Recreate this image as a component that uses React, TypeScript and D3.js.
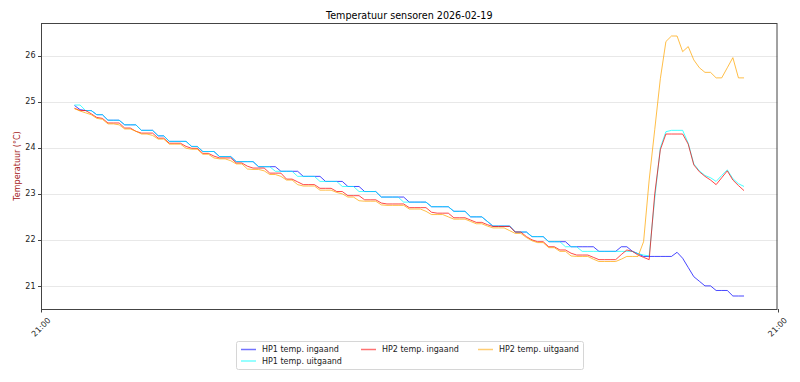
import React from "react";
import * as d3 from "d3";

// ---- data (one sample every 12 minutes, 121 samples) ----
const seriesNames = ["HP1 temp. ingaand", "HP1 temp. uitgaand", "HP2 temp. ingaand", "HP2 temp. uitgaand"];
const seriesColors = ["blue", "cyan", "red", "orange"];

const hp1In = [
  24.92, 24.83, 24.81, 24.81, 24.72, 24.72, 24.6, 24.6, 24.6, 24.5,
  24.5, 24.5, 24.38, 24.38, 24.38, 24.26, 24.26, 24.14, 24.14, 24.14,
  24.14, 24.03, 24.03, 23.92, 23.92, 23.92, 23.81, 23.81, 23.81, 23.7,
  23.7, 23.7, 23.7, 23.59, 23.59, 23.59, 23.59, 23.49, 23.49, 23.49,
  23.49, 23.38, 23.38, 23.38, 23.38, 23.27, 23.27, 23.27, 23.27, 23.16,
  23.16, 23.16, 23.05, 23.05, 23.05, 22.93, 22.93, 22.93, 22.93, 22.93,
  22.82, 22.82, 22.82, 22.82, 22.72, 22.72, 22.72, 22.72, 22.62, 22.62,
  22.62, 22.5, 22.5, 22.5, 22.4, 22.3, 22.3, 22.3, 22.3, 22.17,
  22.17, 22.17, 22.07, 22.07, 22.07, 21.96, 21.96, 21.96, 21.96, 21.85,
  21.85, 21.85, 21.85, 21.85, 21.75, 21.75, 21.75, 21.75, 21.85, 21.85,
  21.75, 21.7, 21.64, 21.64, 21.64, 21.64, 21.64, 21.64, 21.73, 21.6,
  21.4, 21.2, 21.1, 21.0, 21.0, 20.9, 20.9, 20.9, 20.78, 20.78,
  20.78,
];

const hp1Out = [
  24.93, 24.93, 24.81, 24.81, 24.72, 24.72, 24.6, 24.6, 24.6, 24.5,
  24.5, 24.5, 24.38, 24.38, 24.38, 24.26, 24.26, 24.14, 24.14, 24.14,
  24.14, 24.03, 24.03, 23.92, 23.92, 23.92, 23.81, 23.81, 23.81, 23.7,
  23.7, 23.7, 23.7, 23.59, 23.59, 23.59, 23.49, 23.49, 23.49, 23.49,
  23.38, 23.38, 23.38, 23.38, 23.27, 23.27, 23.27, 23.27, 23.16, 23.16,
  23.16, 23.05, 23.05, 23.05, 23.05, 22.93, 22.93, 22.93, 22.93, 22.82,
  22.82, 22.82, 22.82, 22.82, 22.72, 22.72, 22.72, 22.72, 22.62, 22.62,
  22.62, 22.5, 22.5, 22.5, 22.4, 22.3, 22.3, 22.3, 22.3, 22.17,
  22.17, 22.17, 22.07, 22.07, 22.07, 21.96, 21.96, 21.96, 21.85, 21.85,
  21.85, 21.75, 21.75, 21.75, 21.75, 21.75, 21.75, 21.75, 21.75, 21.75,
  21.75, 21.7, 21.67, 21.65, 22.9, 24.0, 24.35, 24.38, 24.38, 24.38,
  24.1, 23.65, 23.5, 23.4, 23.35, 23.27, 23.4, 23.52, 23.33, 23.22,
  23.16,
];

const hp2In = [
  24.86, 24.81, 24.81, 24.74, 24.66, 24.64, 24.54, 24.54, 24.54, 24.43,
  24.43, 24.36, 24.32, 24.32, 24.32, 24.21, 24.21, 24.1, 24.1, 24.1,
  24.03, 23.99, 23.99, 23.88, 23.88, 23.82, 23.78, 23.78, 23.78, 23.67,
  23.67, 23.6, 23.56, 23.56, 23.56, 23.45, 23.45, 23.45, 23.32, 23.32,
  23.26, 23.2, 23.2, 23.2, 23.12, 23.12, 23.12, 23.05, 23.05, 22.96,
  22.96, 22.96, 22.87, 22.87, 22.87, 22.8, 22.78, 22.78, 22.78, 22.78,
  22.7, 22.7, 22.7, 22.7, 22.6, 22.58, 22.58, 22.58, 22.48, 22.48,
  22.48, 22.43, 22.38, 22.38, 22.33, 22.29, 22.29, 22.29, 22.29, 22.17,
  22.17, 22.07, 22.0, 21.96, 21.96, 21.85, 21.85, 21.78, 21.78, 21.71,
  21.67, 21.67, 21.67, 21.62, 21.57, 21.57, 21.57, 21.57, 21.68, 21.78,
  21.75, 21.67, 21.62, 21.57, 23.0, 23.96, 24.3, 24.3, 24.3, 24.3,
  24.08, 23.63, 23.48, 23.38, 23.3, 23.2, 23.35, 23.5, 23.3, 23.18,
  23.07,
];

const hp2Out = [
  24.85, 24.8, 24.76, 24.72, 24.64, 24.62, 24.52, 24.52, 24.5, 24.41,
  24.41, 24.36, 24.3, 24.3, 24.27, 24.19, 24.19, 24.08, 24.08, 24.08,
  23.99, 23.97, 23.97, 23.86, 23.86, 23.78, 23.76, 23.76, 23.72, 23.65,
  23.65, 23.54, 23.53, 23.53, 23.5, 23.42, 23.42, 23.38, 23.3, 23.3,
  23.2, 23.17, 23.17, 23.17, 23.08, 23.08, 23.08, 23.03, 23.0, 22.93,
  22.93, 22.85, 22.84, 22.84, 22.84, 22.76, 22.75, 22.75, 22.75, 22.75,
  22.67, 22.67, 22.67, 22.62, 22.55, 22.55, 22.55, 22.5, 22.45, 22.45,
  22.45, 22.4, 22.35, 22.35, 22.3, 22.26, 22.26, 22.26, 22.2, 22.14,
  22.14, 22.05, 21.98, 21.94, 21.94, 21.83, 21.83, 21.75, 21.75, 21.65,
  21.64, 21.64, 21.64, 21.58, 21.53, 21.53, 21.53, 21.53, 21.58, 21.64,
  21.64, 21.64, 21.96, 23.3, 24.4, 25.5, 26.31, 26.43, 26.43, 26.09,
  26.2, 25.91, 25.74, 25.64, 25.64, 25.52, 25.52, 25.74, 25.96, 25.52,
  25.52,
];

const yTicks = [21, 22, 23, 24, 25, 26];
const xTickLabels = ["21:00", "21:00"];
const titleText = "Temperatuur sensoren 2026-02-19";
const yLabelText = "Temperatuur (°C)";

const allSeries = [hp1In, hp1Out, hp2In, hp2Out];

export default function App() {
  const W = 800;
  const H = 382;
  const left = 41;
  const right = 777.5;
  const top = 23;
  const bottom = 309;

  const n = hp1In.length;
  const xPad = (n - 1) * 0.05;
  const x = d3.scaleLinear().domain([-xPad, n - 1 + xPad]).range([left, right]);

  const all = allSeries.flat();
  const mn = d3.min(all) as number;
  const mx = d3.max(all) as number;
  const yPad = (mx - mn) * 0.05;
  const y = d3.scaleLinear().domain([mn - yPad, mx + yPad]).range([bottom, top]);

  const line = d3
    .line<number>()
    .x((_, i) => x(i))
    .y((d) => y(d));

  const font = "DejaVu Sans, sans-serif";
  const xDomain = x.domain();
  const xTickPos = [xDomain[0], xDomain[1]];

  const legendX = 236;
  const legendY = 341;
  const legendCols = [
    { hx: 241, tx: 262 },
    { hx: 361, tx: 382 },
    { hx: 478, tx: 499 },
  ];
  const legendItems = [
    { s: 0, col: 0, row: 0 },
    { s: 1, col: 0, row: 1 },
    { s: 2, col: 1, row: 0 },
    { s: 3, col: 2, row: 0 },
  ];

  return (
    <svg
      width={W}
      height={H}
      style={{ position: "absolute", left: 0, top: 0, background: "#fff" }}
      fontFamily={font}
    >
      <rect x={0} y={0} width={W} height={H} fill="#fff" />
      {/* grid */}
      {yTicks.map((t) => (
        <line
          key={"g" + t}
          x1={left}
          x2={right}
          y1={Math.round(y(t)) + 0.5}
          y2={Math.round(y(t)) + 0.5}
          stroke="#e8e8e8"
          strokeWidth={1}
        />
      ))}
      {/* series */}
      {allSeries.map((s, k) => (
        <path
          key={"s" + k}
          d={line(s) || ""}
          fill="none"
          stroke={seriesColors[k]}
          strokeOpacity={0.72}
          strokeWidth={1}
        />
      ))}
      {/* frame */}
      <rect
        x={left + 0.5}
        y={top + 0.5}
        width={right - left - 1}
        height={bottom - top}
        fill="none"
        stroke="#444"
        strokeWidth={1}
      />
      {/* y ticks */}
      {yTicks.map((t) => (
        <g key={"yt" + t}>
          <line
            x1={left - 3}
            x2={left}
            y1={Math.round(y(t)) + 0.5}
            y2={Math.round(y(t)) + 0.5}
            stroke="#444"
          />
          <text x={left - 5.5} y={y(t)} dy="0.33em" textAnchor="end" fontSize={8} fill="#222">
            {t}
          </text>
        </g>
      ))}
      {/* x ticks */}
      {xTickPos.map((v, i) => (
        <g key={"xt" + i}>
          <line
            x1={Math.round(x(v)) + 0.5}
            x2={Math.round(x(v)) + 0.5}
            y1={bottom}
            y2={bottom + 3.5}
            stroke="#444"
          />
          <text
            transform={`translate(${x(v)},${bottom + 18}) rotate(-45)`}
            textAnchor="middle"
            dy="0.35em"
            fontSize={8}
            fill="#222"
          >
            {xTickLabels[i]}
          </text>
        </g>
      ))}
      {/* title */}
      <text x={(left + right) / 2} y={19} textAnchor="middle" fontSize={9.6} fill="#000">
        {titleText}
      </text>
      {/* y label */}
      <text
        transform={`translate(17,${(top + bottom) / 2}) rotate(-90)`}
        textAnchor="middle"
        dy="0.35em"
        fontSize={8}
        fill="#a52020"
      >
        {yLabelText}
      </text>
      {/* legend */}
      <rect
        x={legendX + 0.5}
        y={legendY + 0.5}
        width={347}
        height={28}
        rx={2}
        fill="#fff"
        stroke="#d6d6d6"
        strokeWidth={1}
      />
      {legendItems.map((it) => {
        const c = legendCols[it.col];
        const yy = legendY + 8.5 + it.row * 11.5;
        return (
          <g key={"l" + it.s}>
            <line
              x1={c.hx}
              x2={c.hx + 15}
              y1={yy}
              y2={yy}
              stroke={seriesColors[it.s]}
              strokeOpacity={0.55}
              strokeWidth={1.5}
            />
            <text x={c.tx} y={yy} dy="0.35em" fontSize={8} fill="#222">
              {seriesNames[it.s]}
            </text>
          </g>
        );
      })}
    </svg>
  );
}
